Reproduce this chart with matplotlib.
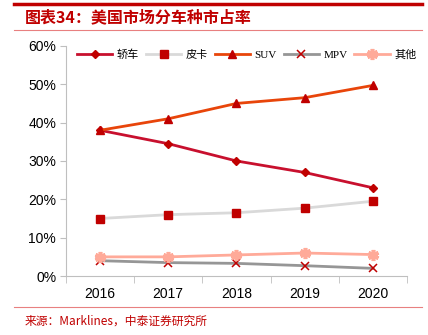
import matplotlib
matplotlib.use("Agg")
from matplotlib import pyplot as plt
from matplotlib.ticker import PercentFormatter
from matplotlib.lines import Line2D

plt.rcParams["font.family"] = ["Liberation Sans", "Noto Sans CJK SC", "DejaVu Sans"]

years = ["2016", "2017", "2018", "2019", "2020"]
sedan = [38.0, 34.5, 30.0, 27.0, 23.0]
pickup = [15.0, 16.0, 16.5, 17.7, 19.5]
suv = [38.0, 41.0, 45.0, 46.5, 49.7]
mpv = [4.0, 3.5, 3.3, 2.7, 2.0]
other = [5.0, 5.0, 5.5, 6.0, 5.6]

fig = plt.figure(figsize=(4.28, 3.35), dpi=100)
ax = fig.add_axes([0.154, 0.176, 0.797, 0.687])

x = range(len(years))
dark = "#C00000"
ax.plot(x, sedan, color="#C8102E", lw=2.0, marker="D", ms=4.5, mfc=dark, mec=dark, label="轿车")
ax.plot(x, pickup, color="#D9D9D9", lw=2.0, marker="s", ms=5.5, mfc=dark, mec=dark, label="皮卡")
ax.plot(x, suv, color="#E8450A", lw=2.0, marker="^", ms=6, mfc=dark, mec=dark, label="SUV", zorder=4)
ax.plot(x, mpv, color="#969696", lw=2.0, marker="x", ms=5.5, mew=1.1, mec=dark, label="MPV")
ax.plot(x, other, color="#FFAA99", lw=2.0, marker=(6, 2, 0), ms=8, mew=2.6, mec="#FFAA99", label="其他")

ax.set_xlim(-0.5, 4.5)
ax.set_ylim(0, 60)
ax.set_yticks(range(0, 61, 10))
ax.yaxis.set_major_formatter(PercentFormatter(decimals=0))
ax.set_xticks(list(x))
ax.set_xticklabels(years)
ax.set_xticks([i - 0.5 for i in range(6)], minor=True)
ax.tick_params(axis="x", which="major", length=0, pad=8, labelsize=10)
ax.tick_params(axis="x", which="minor", length=5, color="#BFBFBF", direction="out")
ax.tick_params(axis="y", length=4, color="#BFBFBF", labelsize=10, pad=3)
for s in ["top", "right"]:
    ax.spines[s].set_visible(False)
for s in ["left", "bottom"]:
    ax.spines[s].set_color("#BFBFBF")

leg = ax.legend(loc="upper center", bbox_to_anchor=(0.53, 1.03), ncol=5, frameon=False,
                handlelength=3.2, handletextpad=0.4, columnspacing=0.6,
                prop={"family": ["Liberation Serif", "Noto Sans CJK SC"], "size": 8})

# header / footer
fig.add_artist(Line2D([0.033, 0.985], [0.988, 0.988], color=dark, lw=2.5))
fig.add_artist(Line2D([0.033, 0.985], [0.91, 0.91], color="#E88080", lw=0.8))
fig.text(0.058, 0.948, "图表34：美国市场分车种市占率", color=dark, fontsize=11.5,
         fontweight="bold", style="italic", va="center", ha="left",
         family=["Noto Sans CJK SC", "DejaVu Sans"])
fig.add_artist(Line2D([0.033, 0.985], [0.083, 0.083], color="#E88080", lw=0.8))
fig.text(0.058, 0.042, "来源：Marklines，中泰证券研究所", color=dark, fontsize=8.5,
         va="center", ha="left", family=["Noto Sans CJK SC", "DejaVu Sans"])

fig.savefig("out.png", dpi=100)
